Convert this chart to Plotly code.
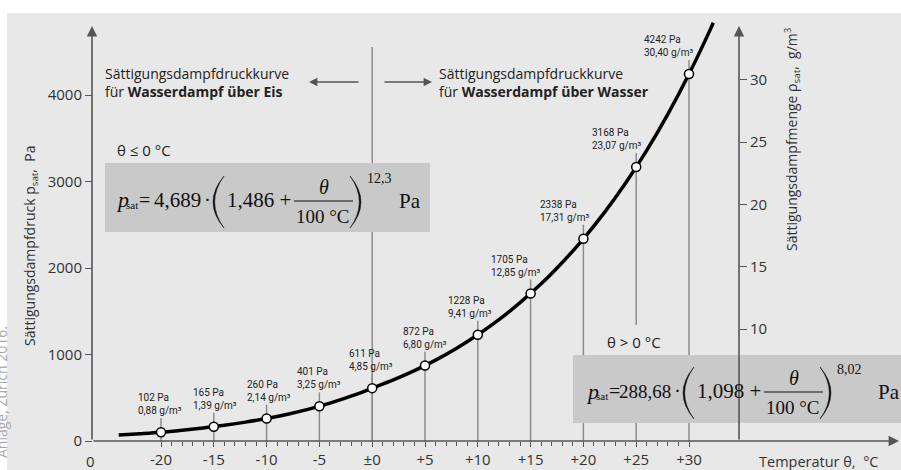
import plotly.graph_objects as go

# ---------------- data ----------------
curve_temps = [-24, -22, -20, -18, -16, -14, -12, -10, -8, -6, -4, -2, 0,
               2, 4, 6, 8, 10, 12, 14, 16, 18, 20, 22, 24, 26, 28, 30, 32, 32.3]
curve_pa = [70, 85, 102, 125, 151, 181, 218, 260, 310, 369, 438, 518, 611,
            706, 813, 935, 1073, 1228, 1402, 1599, 1817, 2064, 2338, 2643, 2983,
            3360, 3779, 4242, 4753, 4835]

point_temps = [-20, -15, -10, -5, 0, 5, 10, 15, 20, 25, 30]
point_pa = [102, 165, 260, 401, 611, 872, 1228, 1705, 2338, 3168, 4242]
point_gm3 = ["0,88", "1,39", "2,14", "3,25", "4,85", "6,80", "9,41", "12,85", "17,31", "23,07", "30,40"]
point_gm3_val = [0.88, 1.39, 2.14, 3.25, 4.85, 6.80, 9.41, 12.85, 17.31, 23.07, 30.40]

xtick_vals = [-20, -15, -10, -5, 0, 5, 10, 15, 20, 25, 30]
xtick_text = ["-20", "-15", "-10", "-5", "±0", "+5", "+10", "+15", "+20", "+25", "+30"]
xminor_vals = [t for t in range(-20, 31) if t % 5 != 0]
ytick_vals = [0, 1000, 2000, 3000, 4000]
y2tick_vals = [10, 15, 20, 25, 30]

# ---------------- geometry helpers ----------------
W, H = 901, 470
def PX(x):
    return x / W
def PY(y):
    return 1 - y / H

X0PX, XS = 372.2, 10.56          # px of 0 °C, px per °C
Y0PX, YS = 441.0, 0.0865         # px of 0 Pa, px per Pa
Y2REF, Y2S = 204.4, 12.46        # px of 20 g/m3, px per g/m3

xrange_ = [(0 - X0PX) / XS, (W - X0PX) / XS]
yrange_ = [(Y0PX - H) / YS, Y0PX / YS]
y2range_ = [20 + (Y2REF - H) / Y2S, 20 + Y2REF / Y2S]

BG = "#e8e8e8"
BOX = "#c9c9c9"
AX = "#555555"
DROP = "#8c8c8c"
TXT = "#222222"
SANS = "Open Sans"
SERIF = "Liberation Serif"

fig = go.Figure()

# drop lines
drop_off = 14 / YS
dx, dy = [], []
for t, p in zip(point_temps, point_pa):
    dx += [t, t, None]
    dy += [0, p + drop_off, None]
fig.add_trace(go.Scatter(x=dx, y=dy, mode="lines", line=dict(color=DROP, width=1.5),
                         hoverinfo="skip", showlegend=False))

# curve
fig.add_trace(go.Scatter(x=curve_temps, y=curve_pa, mode="lines",
                         line=dict(color="black", width=3.5, shape="spline"),
                         hoverinfo="skip", showlegend=False))

# points
fig.add_trace(go.Scatter(x=point_temps, y=point_pa, mode="markers",
                         marker=dict(symbol="circle", size=9, color="white",
                                     line=dict(color="black", width=1.5)),
                         hoverinfo="skip", showlegend=False))

# invisible trace on right axis
fig.add_trace(go.Scatter(x=point_temps, y=point_gm3_val, yaxis="y2", mode="markers",
                         marker=dict(opacity=0), hoverinfo="skip", showlegend=False))

shapes = []
annotations = []

# background
shapes.append(dict(type="rect", xref="paper", yref="paper", x0=PX(7), x1=PX(W),
                   y0=PY(H), y1=PY(13), fillcolor=BG, line=dict(width=0), layer="below"))

# divider at 0 °C
shapes.append(dict(type="line", xref="x", yref="paper", x0=0, x1=0,
                   y0=PY(Y0PX), y1=PY(47), line=dict(color=DROP, width=1.5), layer="below"))

# formula boxes
shapes.append(dict(type="rect", xref="paper", yref="paper", x0=PX(105), x1=PX(430),
                   y0=PY(232), y1=PY(163), fillcolor=BOX, line=dict(width=0), layer="above"))
shapes.append(dict(type="rect", xref="paper", yref="paper", x0=PX(573), x1=PX(W),
                   y0=PY(423), y1=PY(355), fillcolor=BOX, line=dict(width=0), layer="above"))
# gap in the +25 line behind "θ > 0 °C"
shapes.append(dict(type="rect", xref="paper", yref="paper", x0=PX(628), x1=PX(645),
                   y0=PY(355), y1=PY(325), fillcolor=BG, line=dict(width=0), layer="above"))


def arrow(tipx, tipy, tailx, taily, width=1.6, size=1.3):
    annotations.append(dict(xref="paper", yref="paper", x=PX(tipx), y=PY(tipy),
                            ax=tailx - tipx, ay=taily - tipy, text="", showarrow=True,
                            arrowhead=2, arrowsize=size, arrowwidth=width, arrowcolor=AX,
                            standoff=0, startstandoff=0))

# axes with arrowheads
arrow(92, 26, 92, Y0PX)
arrow(739, 26, 739, Y0PX)
arrow(899, Y0PX, 92, Y0PX)
# text arrows
arrow(309, 82, 360, 82, width=1.4, size=1.2)
arrow(432, 82, 383, 82, width=1.4, size=1.2)


def text(x, y, s, size=14, color=TXT, family=SANS, xanchor="left", yanchor="middle",
         angle=0, align="left", **kw):
    d = dict(xref="paper", yref="paper", x=PX(x), y=PY(y), text=s, showarrow=False,
             xanchor=xanchor, yanchor=yanchor, textangle=angle, align=align,
             font=dict(size=size, color=color, family=family), borderpad=0)
    d.update(kw)
    annotations.append(d)

# headings
text(104, 82, "Sättigungsdampfdruckkurve<br>für <b>Wasserdampf über Eis</b>", size=14)
text(438, 82, "Sättigungsdampfdruckkurve<br>für <b>Wasserdampf über Wasser</b>", size=14)
text(116, 150, "θ ≤ 0 °C", size=15)
text(606, 342, "θ > 0 °C", size=15)

# axis titles
text(30, 246, "Sättigungsdampfdruck p<sub>sat</sub>,  Pa", size=14, color="#333",
     xanchor="center", angle=-90)
text(792, 139, "Sättigungsdampfmenge ρ<sub>sat</sub>,  g/m<sup>3</sup>", size=14, color="#333",
     xanchor="center", angle=-90)
text(758, 461, "Temperatur θ,  °C", size=14.5, color="#333")
text(90, 461, "0", size=15, color="#333", xanchor="center")

# source note on left edge (cut off)
text(1, 325, "Anlage, Zürich 2016.", size=14, color="#a8a8a8", xanchor="center",
     yanchor="top", angle=-90)


def paren(xa, xb, top, bot, left=True, th=1.7):
    mid = (top + bot) / 2
    if left:
        x1, x0 = xb, xa
        xc = 2 * x0 - x1
        xci = 2 * (x0 + th) - x1
    else:
        x1, x0 = xa, xb
        xc = 2 * x0 - x1
        xci = 2 * (x0 - th) - x1
    path = (f"M {PX(x1)},{PY(top)} Q {PX(xc)},{PY(mid)} {PX(x1)},{PY(bot)} "
            f"Q {PX(xci)},{PY(mid)} {PX(x1)},{PY(top)} Z")
    shapes.append(dict(type="path", xref="paper", yref="paper", path=path,
                       fillcolor="#111", line=dict(color="#111", width=0.5), layer="above"))


def formula(ox, oy, coef, coef_size, base, expo, pa_dx):
    k = "#111"
    text(ox, oy, "<i>p</i>", size=22, color=k, family=SERIF)
    text(ox + 10, oy + 5, "sat", size=11, color=k, family=SERIF)
    text(ox + 29, oy, "=", size=20, color=k, family=SERIF, xanchor="center")
    text(ox + 87, oy, coef, size=coef_size, color=k, family=SERIF, xanchor="right")
    text(ox + 92, oy, "·", size=21, color=k, family=SERIF, xanchor="center")
    paren(ox + 98, ox + 109, oy - 24, oy + 28, left=True)
    text(ox + 111, oy, base + " +", size=21, color=k, family=SERIF)
    text(ox + 209, oy - 13, "<i>θ</i>", size=20, color=k, family=SERIF, xanchor="center")
    shapes.append(dict(type="line", xref="paper", yref="paper", x0=PX(ox + 179), x1=PX(ox + 238),
                       y0=PY(oy + 1), y1=PY(oy + 1), line=dict(color=k, width=1.2),
                       layer="above"))
    text(ox + 208, oy + 16, "100 °C", size=19, color=k, family=SERIF, xanchor="center")
    paren(ox + 235, ox + 246, oy - 24, oy + 28, left=False)
    text(ox + 251, oy - 22, expo, size=14, color=k, family=SERIF)
    text(ox + pa_dx, oy + 1, "Pa", size=21, color=k, family=SERIF)

formula(115, 200, "4,689", 21, "1,486", "12,3", 283)
formula(585, 391, "288,68", 19, "1,098", "8,02", 292)

# point labels
label_dx = [-1, 1, 2, 0, -1, 0, -8, -15, -19, -20, -21]
for t, p, g, ddx in zip(point_temps, point_pa, point_gm3, label_dx):
    annotations.append(dict(xref="x", yref="y", x=t, y=p, text=f"{p} Pa<br>{g} g/m³",
                            showarrow=False, xanchor="center", yanchor="bottom", align="left",
                            xshift=ddx, yshift=14,
                            font=dict(size=10, color="#222", family="Roboto")))

fig.update_layout(
    width=W, height=H, autosize=False,
    margin=dict(l=0, r=0, t=0, b=0, pad=0),
    paper_bgcolor="white", plot_bgcolor="white",
    showlegend=False,
    xaxis=dict(domain=[0, 1], range=xrange_, anchor="free", position=PY(Y0PX),
               showline=False, showgrid=False, zeroline=False,
               tickmode="array", tickvals=xtick_vals, ticktext=xtick_text,
               ticks="outside", ticklen=5, tickwidth=1.3, tickcolor=AX,
               tickfont=dict(size=15, color="#333", family=SANS),
               minor=dict(tickmode="array", tickvals=xminor_vals, ticks="outside",
                          ticklen=4, tickwidth=1, tickcolor=AX, showgrid=False),
               fixedrange=True),
    yaxis=dict(domain=[0, 1], range=yrange_, anchor="free", position=PX(92),
               showline=False, showgrid=False, zeroline=False,
               tickmode="array", tickvals=ytick_vals,
               ticks="outside", ticklen=7, tickwidth=1.3, tickcolor=AX,
               tickfont=dict(size=15, color="#333", family=SANS), fixedrange=True),
    yaxis2=dict(domain=[0, 1], range=y2range_, overlaying="y", side="right",
                anchor="free", position=PX(739),
                showline=False, showgrid=False, zeroline=False,
                tickmode="array", tickvals=y2tick_vals,
                ticks="outside", ticklen=7, tickwidth=1.3, tickcolor=AX,
                tickfont=dict(size=15, color="#333", family=SANS), fixedrange=True),
    shapes=shapes,
    annotations=annotations,
)

fig.write_html("out.html", config={"displayModeBar": False})
